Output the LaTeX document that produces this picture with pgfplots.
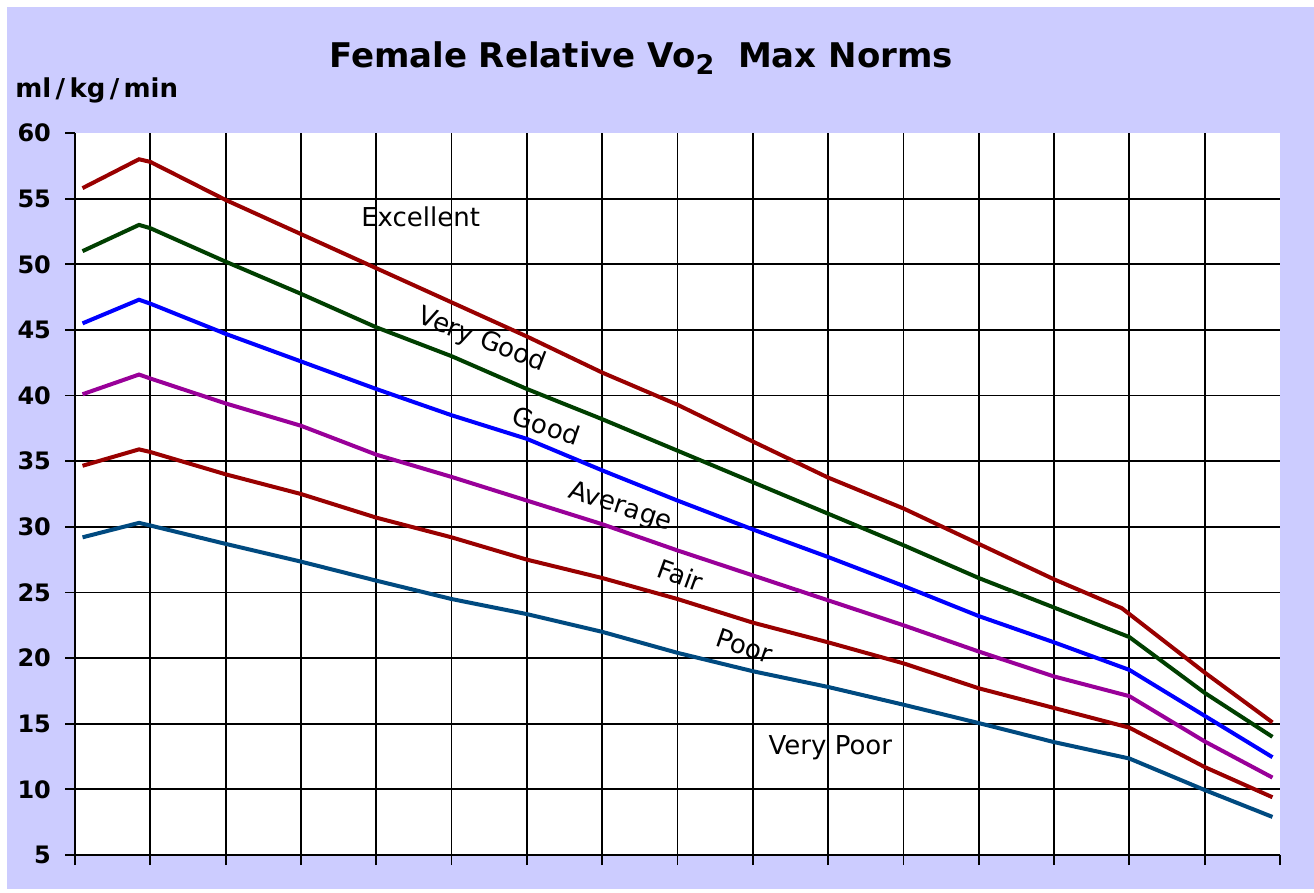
\documentclass[border=0pt]{standalone}
\usepackage{pgfplots}
\pgfplotsset{compat=1.18}
\usepackage{fontspec}
\setmainfont{DejaVu Sans}
\definecolor{lav}{HTML}{CCCCFF}
\definecolor{cexc}{HTML}{990000}
\definecolor{cvg}{HTML}{003F00}
\definecolor{cgood}{HTML}{0000FF}
\definecolor{cavg}{HTML}{990099}
\definecolor{cfair}{HTML}{990000}
\definecolor{cpoor}{HTML}{004A80}
\begin{document}
\begin{tikzpicture}
\path[use as bounding box] (0pt,0pt) rectangle (657pt,-446.5pt);
\fill[white] (0pt,0pt) rectangle (657pt,-446.5pt);
\fill[lav] (3.5pt,-3.5pt) rectangle (657pt,-444.5pt);
\node[anchor=base, font=\bfseries\fontsize{17}{19}\selectfont] at (320.5pt,-34pt)
  {Female Relative Vo\raisebox{-0.35ex}{\fontsize{13.5}{13.5}\selectfont 2}\ \ Max Norms};
\node[anchor=base west, font=\bfseries\fontsize{13}{15}\selectfont, inner sep=0pt] at (7.5pt,-49pt)
  {ml\,/\,kg\,/\,min};
\begin{axis}[
  at={(37.5pt,-427.5pt)}, anchor=south west,
  scale only axis, width=602.5pt, height=361pt,
  xmin=0, xmax=16, ymin=5, ymax=60,
  axis x line=bottom, axis y line=left,
  axis line style={-, line width=1pt, black},
  axis background/.style={fill=white},
  xtick={0,...,15}, xticklabels={},
  extra x ticks={16}, extra x tick labels={}, extra x tick style={grid=none},
  ytick={5,10,...,55},
  extra y ticks={60}, extra y tick style={grid=none},
  xmajorgrids, ymajorgrids,
  grid style={black, line width=0.9pt},
  tick align=outside,
  major tick length=5pt,
  tick style={black, line width=0.9pt},
  /pgf/number format/assume math mode=true,
  yticklabel style={font=\bfseries\fontsize{12}{14}\selectfont, xshift=-3.5pt},
  clip=false,
]
% Excellent boundary
\addplot[cexc, line width=2pt] coordinates {
(0.1,55.8) (0.85,58.0) (1,57.8) (2,54.9) (3,52.3) (4,49.7) (5,47.1) (6,44.5)
(7,41.75) (8,39.3) (9,36.5) (10,33.75) (11,31.4) (12,28.7) (13,26.0) (13.9,23.8)
(15,18.9) (15.9,15.1)};
% Very Good boundary
\addplot[cvg, line width=2pt] coordinates {
(0.1,51.0) (0.85,53.0) (1,52.75) (2,50.2) (3,47.75) (4,45.2) (5,43.0) (6,40.5)
(7,38.2) (8,35.8) (9,33.4) (10,31.0) (11,28.6) (12,26.1) (13,23.85) (14,21.6)
(15,17.35) (15.9,14.0)};
% Good boundary
\addplot[cgood, line width=2pt] coordinates {
(0.1,45.5) (0.85,47.3) (1,47.0) (2,44.7) (3,42.6) (4,40.5) (5,38.5) (6,36.7)
(7,34.3) (8,32.0) (9,29.8) (10,27.7) (11,25.5) (12,23.2) (13,21.2) (14,19.1)
(15,15.6) (15.9,12.45)};
% Average boundary
\addplot[cavg, line width=2pt] coordinates {
(0.1,40.1) (0.85,41.6) (1,41.3) (2,39.4) (3,37.7) (4,35.5) (5,33.8) (6,32.0)
(7,30.2) (8,28.2) (9,26.3) (10,24.4) (11,22.5) (12,20.5) (13,18.6) (14,17.1)
(15,13.65) (15.9,10.9)};
% Fair boundary
\addplot[cfair, line width=2pt] coordinates {
(0.1,34.65) (0.85,35.9) (1,35.7) (2,34.0) (3,32.5) (4,30.7) (5,29.2) (6,27.5)
(7,26.1) (8,24.5) (9,22.7) (10,21.2) (11,19.6) (12,17.7) (13,16.2) (14,14.7)
(15,11.7) (15.9,9.4)};
% Poor boundary
\addplot[cpoor, line width=2pt] coordinates {
(0.1,29.2) (0.85,30.3) (1,30.1) (2,28.7) (3,27.35) (4,25.9) (5,24.5) (6,23.35)
(7,22.0) (8,20.4) (9,19.0) (10,17.8) (11,16.45) (12,15.05) (13,13.6) (14,12.35)
(15,9.95) (15.9,7.9)};
\begin{scope}[every node/.style={font=\fontsize{13}{15}\selectfont, inner sep=0pt}]
\node at (axis cs:4.59,53.6) {Excellent};
\node[rotate=-21] at (axis cs:5.40,44.2) {Very Good};
\node[rotate=-19] at (axis cs:6.26,37.7) {Good};
\node[rotate=-18] at (axis cs:7.24,31.5) {Average};
\node[rotate=-20] at (axis cs:8.04,26.3) {Fair};
\node[rotate=-19] at (axis cs:8.89,20.9) {Poor};
\node at (axis cs:10.03,13.2) {Very Poor};
\end{scope}
\end{axis}
\end{tikzpicture}
\end{document}
